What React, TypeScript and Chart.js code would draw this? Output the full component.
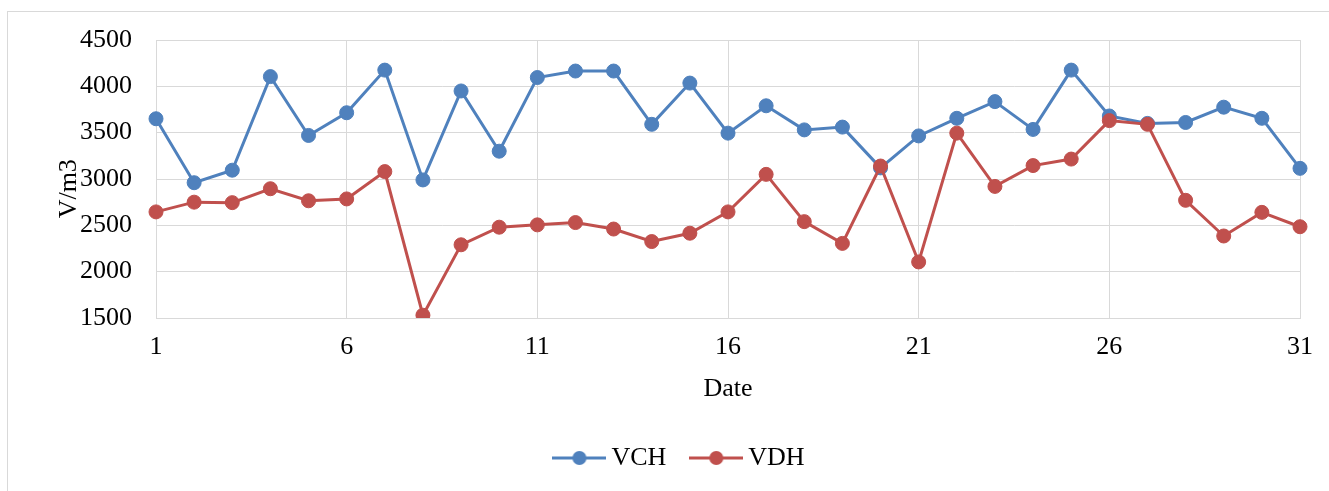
import React, { useEffect, useRef } from 'react';
import { Chart, registerables } from 'chart.js';

Chart.register(...registerables);

const dates = ['1', '2', '3', '4', '5', '6', '7', '8', '9', '10', '11', '12', '13', '14', '15', '16', '17', '18', '19', '20', '21', '22', '23', '24', '25', '26', '27', '28', '29', '30', '31'];
const vch = [3650, 2960, 3095, 4105, 3470, 3715, 4175, 2990, 3950, 3300, 4095, 4165, 4165, 3590, 4035, 3495, 3790, 3530, 3560, 3120, 3465, 3655, 3835, 3535, 4175, 3680, 3600, 3610, 3775, 3655, 3115];
const vdh = [2645, 2750, 2745, 2895, 2765, 2785, 3080, 1530, 2290, 2480, 2505, 2530, 2460, 2325, 2415, 2645, 3050, 2540, 2305, 3140, 2105, 3495, 2920, 3145, 3215, 3630, 3590, 2770, 2385, 2640, 2485];
const seriesNames = ['VCH', 'VDH'];
const seriesColors = ['#4F81BD', '#C0504D'];
const yMin = 1500;
const yMax = 4500;
const yStep = 500;
const xTitle = 'Date';
const yTitle = 'V/m3';

const FONT = { family: "'Liberation Serif', 'Times New Roman', serif", size: 26 };
const GRID = '#d9d9d9';

function makeIcon(color: string): HTMLCanvasElement {
  const c = document.createElement('canvas');
  c.width = 54;
  c.height = 16;
  const g = c.getContext('2d')!;
  g.strokeStyle = color;
  g.lineWidth = 3;
  g.beginPath();
  g.moveTo(0, 8);
  g.lineTo(54, 8);
  g.stroke();
  g.fillStyle = color;
  g.beginPath();
  g.arc(27, 8, 7, 0, Math.PI * 2);
  g.fill();
  return c;
}

const framePlugin = {
  id: 'frame',
  beforeDraw(chart: any) {
    const c = chart.ctx;
    c.save();
    c.fillStyle = '#ffffff';
    c.fillRect(0, 0, chart.width, chart.height);
    c.strokeStyle = GRID;
    c.lineWidth = 1;
    c.strokeRect(7.5, 11.5, chart.width + 40, chart.height + 40);
    c.restore();
  },
};

export default function App() {
  const ref = useRef<HTMLCanvasElement | null>(null);
  useEffect(() => {
    document.body.style.margin = '0';
    if (!ref.current) return;
    const icons = seriesColors.map(makeIcon);
    const chart = new Chart(ref.current, {
      type: 'line',
      data: {
        labels: dates,
        datasets: [
          {
            label: seriesNames[0],
            data: vch,
            borderColor: seriesColors[0],
            backgroundColor: seriesColors[0],
            borderWidth: 3,
            pointRadius: 7,
            pointBorderWidth: 1,
            pointBackgroundColor: seriesColors[0],
            pointBorderColor: seriesColors[0],
            tension: 0,
            order: 1,
          },
          {
            label: seriesNames[1],
            data: vdh,
            borderColor: seriesColors[1],
            backgroundColor: seriesColors[1],
            borderWidth: 3,
            pointRadius: 7,
            pointBorderWidth: 1,
            pointBackgroundColor: seriesColors[1],
            pointBorderColor: seriesColors[1],
            tension: 0,
            order: 0,
          },
        ],
      },
      options: {
        responsive: false,
        animation: false,
        layout: { padding: { left: 36, right: 0, top: 40, bottom: 10 } },
        plugins: {
          tooltip: { enabled: false },
          legend: {
            position: 'bottom',
            labels: {
              usePointStyle: true,
              pointStyleWidth: 38,
              padding: 31,
              font: FONT,
              color: '#000',
              sort: (a: any, b: any) => a.datasetIndex - b.datasetIndex,
              generateLabels: (ch: any) => {
                const items = (Chart.defaults.plugins.legend.labels as any).generateLabels(ch);
                items.forEach((it: any) => {
                  it.pointStyle = icons[it.datasetIndex];
                });
                return items;
              },
            },
          },
        },
        scales: {
          x: {
            type: 'category',
            offset: false,
            grid: {
              color: (c: any) => (c.index % 5 === 0 ? GRID : 'rgba(0,0,0,0)'),
              drawTicks: false,
              lineWidth: 1,
            },
            border: { color: GRID },
            ticks: {
              autoSkip: false,
              maxRotation: 0,
              minRotation: 0,
              padding: 14,
              font: FONT,
              color: '#000',
              callback: (_v: any, i: number) => (i % 5 === 0 ? dates[i] : ''),
            },
            title: { display: true, text: xTitle, font: FONT, color: '#000', padding: { top: 0, bottom: 9 } },
            afterFit: (s: any) => {
              s.height = 96;
            },
          },
          y: {
            min: yMin,
            max: yMax,
            grid: { color: GRID, drawTicks: false, lineWidth: 1 },
            border: { color: GRID },
            ticks: {
              stepSize: yStep,
              padding: 24,
              font: FONT,
              color: '#000',
              callback: (v: any) => String(v),
            },
            title: { display: true, text: yTitle + '\u00a0\u00a0\u00a0', font: FONT, color: '#000', padding: { top: 18, bottom: 0 } },
            afterFit: (s: any) => {
              s.width = 120;
            },
          },
          y2: {
            type: 'linear',
            position: 'right',
            display: true,
            grid: { display: false },
            ticks: { display: false },
            border: { display: false },
            afterFit: (s: any) => {
              s.width = 29;
            },
          },
        },
      } as any,
      plugins: [framePlugin],
    });
    return () => chart.destroy();
  }, []);
  return (
    <div style={{ width: 1329, height: 491 }}>
      <canvas ref={ref} width={1329} height={491} style={{ width: 1329, height: 491, display: 'block' }} />
    </div>
  );
}
